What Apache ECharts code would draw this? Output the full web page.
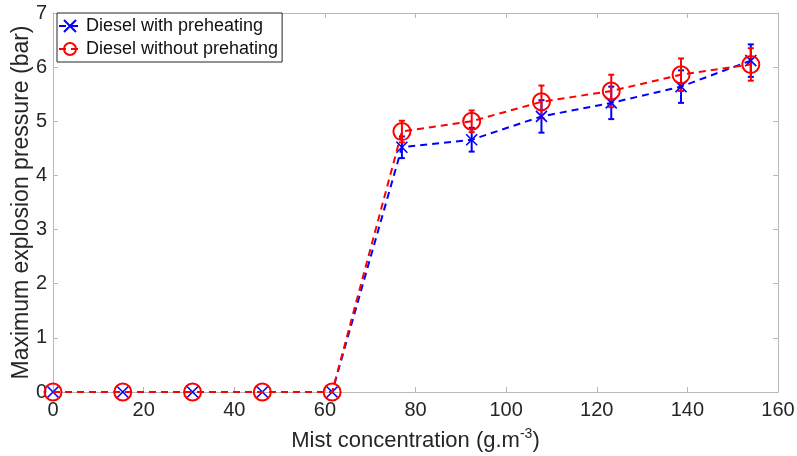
<!DOCTYPE html>
<html>
<head>
<meta charset="utf-8">
<script src="https://cdn.jsdelivr.net/npm/echarts@6/dist/echarts.min.js"></script>
<style>html,body{margin:0;padding:0;background:#fff}#c{width:797px;height:456px}</style>
</head>
<body>
<div id="c"></div>
<script>
const concentrations = [0, 15.4, 30.8, 46.2, 61.6, 77, 92.4, 107.8, 123.2, 138.6, 154];
const withPreheat = [0, 0, 0, 0, 0, 4.52, 4.66, 5.09, 5.34, 5.64, 6.12];
const withPreheatErr = [0, 0, 0, 0, 0, 0.2, 0.22, 0.3, 0.3, 0.3, 0.3];
const withoutPreheat = [0, 0, 0, 0, 0, 4.81, 5.0, 5.36, 5.56, 5.86, 6.05];
const withoutPreheatErr = [0, 0, 0, 0, 0, 0.2, 0.2, 0.3, 0.3, 0.3, 0.3];
const xTicks = [0, 20, 40, 60, 80, 100, 120, 140, 160];
const yTicks = [0, 1, 2, 3, 4, 5, 6, 7];

const FONT = 'Liberation Sans';
const BLUE = '#0000ff', RED = '#ff0000';
const AXC = '#b8b8b8', TXT = '#262626';
const crossPath = 'path://M0,0 L10,10 M10,0 L0,10';

function pairs(ys) { return concentrations.map((x, i) => [x, ys[i]]); }
function errData(ys, es) {
  return concentrations.map((x, i) => [x, ys[i], es[i]]).filter(d => d[2] > 0);
}
function errSeries(ys, es, color) {
  return {
    type: 'custom', z: 1, silent: true,
    data: errData(ys, es),
    renderItem: function (params, api) {
      const x = api.value(0), y = api.value(1), e = api.value(2);
      const top = api.coord([x, y + e]), bot = api.coord([x, y - e]);
      const w = 3;
      return {
        type: 'group', children: [
          { type: 'line', shape: { x1: top[0], y1: top[1], x2: bot[0], y2: bot[1] }, style: { stroke: color, lineWidth: 2 } },
          { type: 'line', shape: { x1: top[0] - w, y1: top[1], x2: top[0] + w, y2: top[1] }, style: { stroke: color, lineWidth: 2 } },
          { type: 'line', shape: { x1: bot[0] - w, y1: bot[1], x2: bot[0] + w, y2: bot[1] }, style: { stroke: color, lineWidth: 2 } }
        ]
      };
    }
  };
}

const chart = echarts.init(document.getElementById('c'), null, { renderer: 'canvas' });
const xMin = xTicks[0], xMax = xTicks[xTicks.length - 1], xInt = xTicks[1] - xTicks[0];
const yMin = yTicks[0], yMax = yTicks[yTicks.length - 1], yInt = yTicks[1] - yTicks[0];

const axisCommon = {
  axisLine: { show: true, onZero: false, lineStyle: { color: AXC, width: 1 } },
  axisTick: { show: true, inside: true, length: 5, lineStyle: { color: AXC } },
  splitLine: { show: false }
};

chart.setOption({
  animation: false,
  backgroundColor: '#fff',
  textStyle: { fontFamily: FONT },
  grid: { left: 53, right: 19, top: 13, bottom: 64, containLabel: false, outerBoundsMode: 'none' },
  legend: {
    left: 57, top: 13, orient: 'vertical',
    backgroundColor: '#fff', borderColor: '#262626', borderWidth: 1,
    padding: [4, 4, 4, 1], itemGap: 5, itemWidth: 22, itemHeight: 15,
    textStyle: { fontFamily: FONT, fontSize: 18, color: '#111' },
    data: ['Diesel with preheating', 'Diesel without prehating']
  },
  xAxis: [
    Object.assign({
      type: 'value', min: xMin, max: xMax, interval: xInt, position: 'bottom',
      axisLabel: { fontFamily: FONT, fontSize: 20, color: TXT, margin: 8 },
      name: '{a|Mist concentration (g.m}{s|-3}{a|)}', nameLocation: 'middle', nameGap: 35,
      nameMoveOverlap: false,
      nameTextStyle: { rich: { a: { fontFamily: FONT, fontSize: 22, color: TXT }, s: { fontFamily: FONT, fontSize: 14, color: TXT, verticalAlign: 'top', padding: [0, 0, 14, 0] } } }
    }, axisCommon),
    Object.assign({
      type: 'value', min: xMin, max: xMax, interval: xInt, position: 'top',
      axisLabel: { show: false }
    }, axisCommon)
  ],
  yAxis: [
    Object.assign({
      type: 'value', min: yMin, max: yMax, interval: yInt, position: 'left',
      axisLabel: { fontFamily: FONT, fontSize: 20, color: TXT, margin: 6 },
      name: 'Maximum explosion pressure (bar)', nameLocation: 'middle', nameGap: 20,
      nameMoveOverlap: false,
      nameTextStyle: { fontFamily: FONT, fontSize: 23, color: TXT }
    }, axisCommon),
    Object.assign({
      type: 'value', min: yMin, max: yMax, interval: yInt, position: 'right',
      axisLabel: { show: false }
    }, axisCommon)
  ],
  series: [
    errSeries(withPreheat, withPreheatErr, BLUE),
    errSeries(withoutPreheat, withoutPreheatErr, RED),
    {
      name: 'Diesel with preheating', type: 'line', z: 3,
      data: pairs(withPreheat),
      symbol: crossPath, symbolSize: 11,
      itemStyle: { color: BLUE, borderColor: BLUE, borderWidth: 1.6 },
      lineStyle: { color: BLUE, width: 2, type: [7, 5] }
    },
    {
      name: 'Diesel without prehating', type: 'line', z: 4,
      data: pairs(withoutPreheat),
      symbol: 'circle', symbolSize: 17,
      itemStyle: { color: 'rgba(0,0,0,0)', borderColor: RED, borderWidth: 2 },
      lineStyle: { color: RED, width: 2, type: [7, 5] }
    }
  ]
});
</script>
</body>
</html>
